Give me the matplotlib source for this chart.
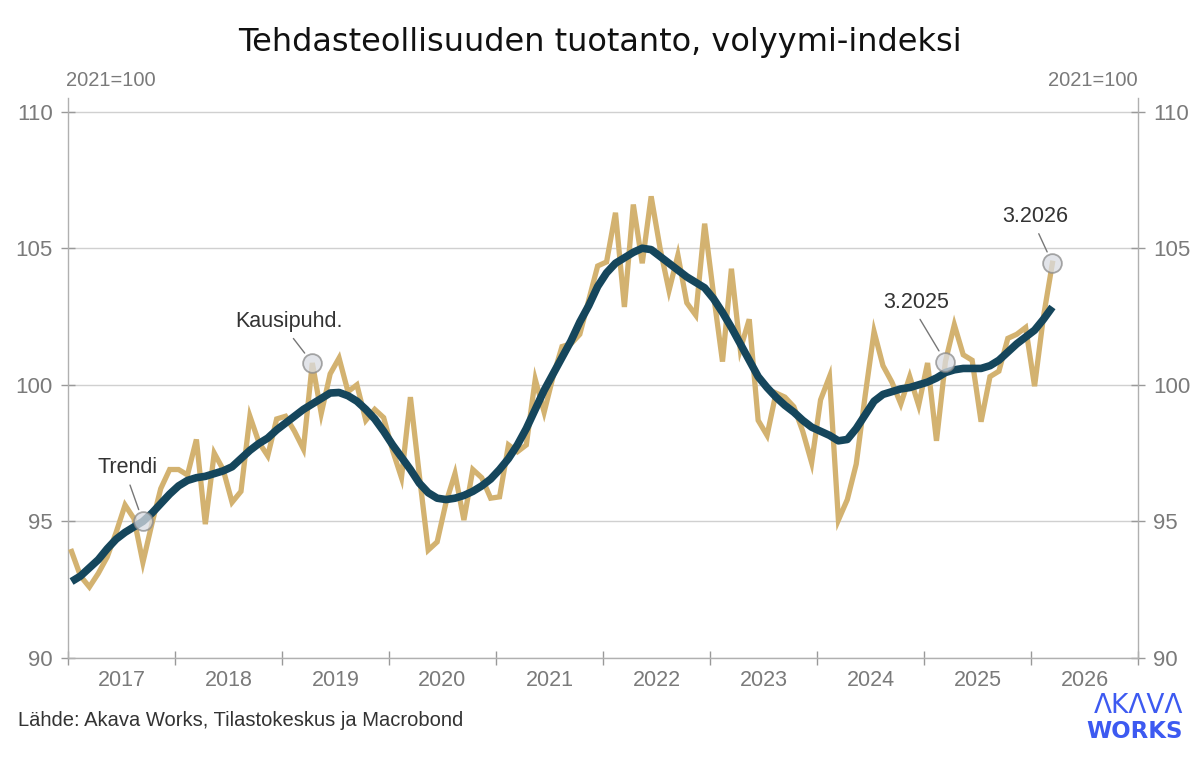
import numpy as np
import matplotlib
matplotlib.use('Agg')
import matplotlib.pyplot as plt
from matplotlib.ticker import FixedLocator, NullFormatter, FixedFormatter

# monthly index, 2021=100, Jan 2017 .. Mar 2026
start_year = 2017
kausipuhd = [93.9, 93.0, 92.6, 93.1, 93.7, 94.6, 95.6, 95.1, 93.5, 94.9, 96.2, 96.9,
             96.9, 96.7, 98.0, 94.9, 97.5, 96.9, 95.7, 96.1, 98.85, 97.9, 97.4, 98.75,
             98.85, 98.3, 97.65, 100.8, 98.95, 100.4, 100.98, 99.75, 100.0, 98.7, 99.1, 98.8,
             97.6, 96.6, 99.55, 96.7, 93.95, 94.25, 95.7, 96.75, 95.05, 96.9, 96.6, 95.85,
             95.9, 97.8, 97.55, 97.8, 100.2, 99.0, 100.3, 101.4, 101.5, 101.85, 103.1, 104.35,
             104.5, 106.3, 102.85, 106.6, 104.45, 106.9, 105.0, 103.45, 104.75, 103.0, 102.55, 105.9,
             103.3, 100.85, 104.25, 101.3, 102.4, 98.7, 98.15, 99.7, 99.55, 99.2, 98.3, 97.15,
             99.45, 100.3, 95.05, 95.8, 97.1, 99.6, 101.95, 100.7, 100.1, 99.3, 100.3, 99.25,
             100.8, 97.95, 100.85, 102.2, 101.1, 100.9, 98.65, 100.3, 100.5, 101.7, 101.85, 102.1,
             99.95, 102.5, 104.45]
trendi = [92.8, 93.0, 93.3, 93.6, 94.0, 94.35, 94.6, 94.8, 95.0, 95.3, 95.65, 96.0,
          96.3, 96.5, 96.6, 96.65, 96.75, 96.85, 97.0, 97.3, 97.6, 97.85, 98.05, 98.35,
          98.6, 98.85, 99.1, 99.3, 99.5, 99.7, 99.72, 99.6, 99.4, 99.1, 98.75, 98.3,
          97.8, 97.35, 96.9, 96.4, 96.05, 95.85, 95.8, 95.85, 95.95, 96.1, 96.3, 96.55,
          96.9, 97.3, 97.8, 98.4, 99.1, 99.8, 100.4, 101.0, 101.6, 102.3, 102.9, 103.6,
          104.1, 104.45, 104.65, 104.85, 105.0, 104.95, 104.7, 104.45, 104.2, 103.95, 103.75, 103.55,
          103.15, 102.65, 102.1, 101.5, 100.9, 100.3, 99.9, 99.55, 99.25, 99.0, 98.7, 98.45,
          98.3, 98.15, 97.95, 98.0, 98.4, 98.9, 99.4, 99.65, 99.75, 99.85, 99.9, 100.0,
          100.1, 100.25, 100.45, 100.55, 100.6, 100.6, 100.6, 100.7, 100.9, 101.2, 101.5, 101.75,
          102.0, 102.4, 102.85]
years = list(range(2017, 2027))
yticks = [90, 95, 100, 105, 110]

# labelled points: (label, series, month index, text offset in points)
callouts = [('Trendi', 'trendi', 8, (-11, 31)),
            ('Kausipuhd.', 'kausipuhd', 27, (-17, 22)),
            ('3.2025', 'kausipuhd', 98, (-21, 35)),
            ('3.2026', 'kausipuhd', 110, (-12, 26))]

gold = '#d3b270'
navy = '#15465c'
grey_txt = '#7a7a7a'
plt.rcParams['font.family'] = ['Liberation Sans Narrow', 'Liberation Sans', 'DejaVu Sans']

x = start_year + (np.arange(len(kausipuhd)) + 0.4) / 12.0
series = {'kausipuhd': np.array(kausipuhd), 'trendi': np.array(trendi)}

fig = plt.figure(figsize=(12, 7.57), dpi=100)
ax = fig.add_axes([68 / 1200, 1 - 658 / 757, (1138 - 68) / 1200, 560 / 757])

ax.plot(x, series['kausipuhd'], color=gold, lw=3.8, solid_joinstyle='miter', zorder=3)
ax.plot(x, series['trendi'], color=navy, lw=5.5, solid_capstyle='butt', zorder=4)

ax.set_xlim(2017, 2027)
ax.set_ylim(90, 110.5)

ax.xaxis.set_major_locator(FixedLocator(years + [2027]))
ax.xaxis.set_major_formatter(NullFormatter())
ax.xaxis.set_minor_locator(FixedLocator([y + 0.5 for y in years]))
ax.xaxis.set_minor_formatter(FixedFormatter([str(y) for y in years]))
ax.tick_params(axis='x', which='major', direction='inout', length=10, color='#999999', width=1)
ax.tick_params(axis='x', which='minor', length=0, pad=9, labelsize=15.5, labelcolor=grey_txt)

ax.set_yticks(yticks)
ax.tick_params(axis='y', which='major', direction='inout', length=10, color='#999999', width=1,
               labelsize=16, labelcolor=grey_txt, left=True, right=True,
               labelleft=True, labelright=True, pad=6)
ax.yaxis.grid(True, color='#d0d0d0', lw=1)
ax.set_axisbelow(True)

for side in ['left', 'right', 'bottom']:
    ax.spines[side].set_color('#b0b0b0')
    ax.spines[side].set_linewidth(1)
ax.spines['top'].set_visible(False)

for label, key, idx, off in callouts:
    xv, yv = x[idx], series[key][idx]
    ax.plot(xv, yv, 'o', ms=13.5, mfc='#d9dce2', mec='#8a8a8a', mew=1.3, alpha=0.75, zorder=5)
    ax.annotate(label, xy=(xv, yv), xytext=off, textcoords='offset points',
                ha='center', va='bottom', fontsize=15.5, color='#333333',
                arrowprops=dict(arrowstyle='-', color='#777777', lw=1, shrinkA=3, shrinkB=9,
                                relpos=(0.5, 0)), zorder=6)

fig.text(0.5, 1 - 42 / 757, 'Tehdasteollisuuden tuotanto, volyymi-indeksi', ha='center', va='center',
         fontsize=23, color='#111111', family=['DejaVu Sans'])
fig.text(66 / 1200, 1 - 80 / 757, '2021=100', ha='left', va='center', fontsize=14.5, color=grey_txt)
fig.text(1138 / 1200, 1 - 80 / 757, '2021=100', ha='right', va='center', fontsize=14.5, color=grey_txt)
fig.text(18 / 1200, 1 - 720 / 757, 'Lähde: Akava Works, Tilastokeskus ja Macrobond', ha='left',
         va='center', fontsize=14.5, color='#333333')
fig.text(1183 / 1200, 1 - 706 / 757, 'ΛKΛVΛ', ha='right', va='center', fontsize=19,
         color='#3d5af1', family=['DejaVu Sans'])
fig.text(1183 / 1200, 1 - 731 / 757, 'WORKS', ha='right', va='center', fontsize=16.5,
         color='#3d5af1', fontweight='bold', family=['DejaVu Sans'])

fig.savefig('out.png', dpi=100, facecolor='white')
